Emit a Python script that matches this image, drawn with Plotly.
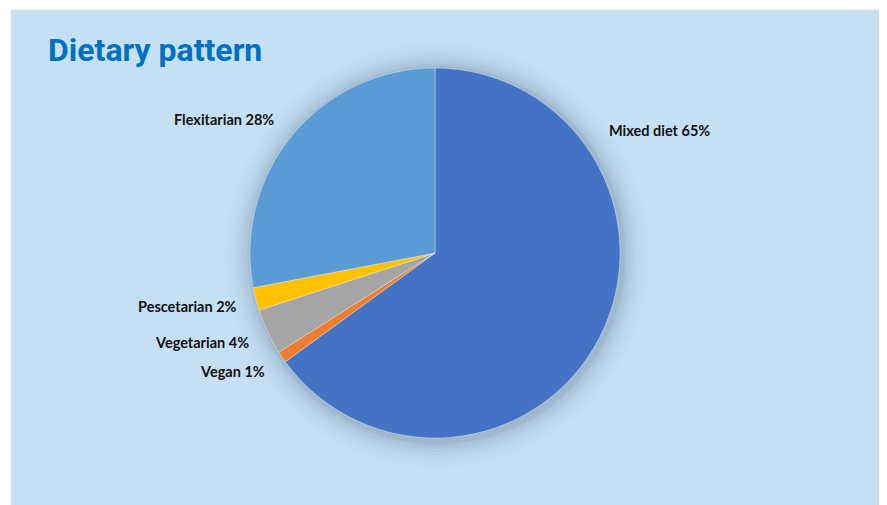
import plotly.graph_objects as go

categories = ["Mixed diet", "Vegan", "Vegetarian", "Pescetarian", "Flexitarian"]
values = [65, 1, 4, 2, 28]
colors = ["#4472C4", "#ED7D31", "#A5A5A5", "#FFC000", "#5B9BD5"]
title_text = "Dietary pattern"

W, H = 887, 505
OFF = 8  # page body margin

def px(x):
    return (x - OFF) / W

def py(y):
    return 1 - (y - OFF) / H

cx, cy, r = 435, 253, 185

fig = go.Figure()
fig.add_trace(go.Pie(
    labels=categories, values=values, sort=False, direction="clockwise", rotation=0,
    marker=dict(colors=colors, line=dict(color="rgba(255,255,255,0.6)", width=0.6)),
    textinfo="none", hoverinfo="label+percent",
    domain=dict(x=[px(cx - r), px(cx + r)], y=[py(cy + r), py(cy - r)]),
    showlegend=False,
))

shapes = [dict(type="rect", xref="paper", yref="paper", x0=px(11.5), x1=px(882.5), y0=py(512), y1=py(10.5),
               fillcolor="#C5E0F4", line=dict(color="#D9D9D9", width=1.5), layer="below")]
# soft shadow halo
for d, op in [(26, 0.015), (22, 0.02), (18, 0.025), (14, 0.03), (11, 0.035), (8, 0.045), (5, 0.055), (3, 0.065)]:
    shapes.append(dict(type="circle", xref="paper", yref="paper",
                       x0=px(cx - r - d + 2), x1=px(cx + r + d + 2), y0=py(cy + r + d + 3), y1=py(cy - r - d + 1),
                       fillcolor="rgba(60,80,110,%.3f)" % op, line=dict(width=0), layer="below"))

font_lbl = dict(family="Lato, Carlito, Calibri, sans-serif", size=14.5, color="#111111")
label_pos = {
    "Mixed diet": (607, 130, "left"),
    "Vegan": (267, 371, "right"),
    "Vegetarian": (251, 342, "right"),
    "Pescetarian": (239, 306, "right"),
    "Flexitarian": (276, 120, "right"),
}
annotations = []
for c, v in zip(categories, values):
    x, y, anc = label_pos[c]
    annotations.append(dict(text="<b>%s %d%%</b>" % (c, v), x=px(x), y=py(y), xref="paper", yref="paper",
                            xanchor=anc, yanchor="middle", showarrow=False, font=font_lbl))
annotations.append(dict(text="<b>%s</b>" % title_text, x=px(46), y=py(50), xref="paper", yref="paper",
                        xanchor="left", yanchor="middle", showarrow=False,
                        font=dict(family="Roboto, sans-serif", size=32, color="#0070C0")))

fig.update_layout(width=W, height=H, margin=dict(l=0, r=0, t=0, b=0), paper_bgcolor="white",
                  shapes=shapes, annotations=annotations)
fig.write_html("out.html")
